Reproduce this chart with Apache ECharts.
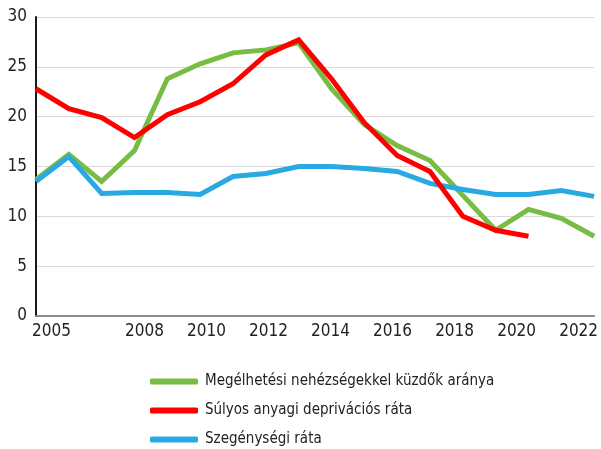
<!DOCTYPE html>
<html>
<head>
<meta charset="utf-8">
<script src="https://cdn.jsdelivr.net/npm/echarts@6/dist/echarts.min.js"></script>
<style>
  html, body { margin: 0; padding: 0; background: #fff; }
  #chart { width: 601px; height: 449px; }
</style>
</head>
<body>
<div id="chart"></div>
<script>
const years = ["2005", "2006", "2007", "2008", "2009", "2010", "2011", "2012", "2013",
    "2014", "2015", "2016", "2017", "2018", "2019", "2020", "2021", "2022"];

const hardship = [13.7, 16.2, 13.5, 16.6, 23.8, 25.3, 26.4, 26.7, 27.4,
    22.8, 19.2, 17.1, 15.6, 12.1, 8.6, 10.7, 9.8, 8.0];
const deprivation = [22.8, 20.8, 19.9, 17.9, 20.2, 21.5, 23.3, 26.2, 27.7,
    23.8, 19.4, 16.1, 14.5, 10.0, 8.6, 8.0];
const poverty = [13.5, 16.0, 12.3, 12.4, 12.4, 12.2, 14.0, 14.3, 15.0,
    15.0, 14.8, 14.5, 13.3, 12.7, 12.2, 12.2, 12.6, 12.0];

const names = [
    "Megélhetési nehézségekkel küzdők aránya",
    "Súlyos anyagi deprivációs ráta",
    "Szegénységi ráta"
];
const colors = ["#77bc43", "#ff0000", "#29a9e1"];

const font = "'DejaVu Sans Condensed', 'Roboto', sans-serif";

const chart = echarts.init(document.getElementById("chart"));

const lineSeries = (i, data, z) => ({
    name: names[i],
    type: "line",
    xAxisIndex: 1,
    data: data,
    symbol: "none",
    z: z,
    lineStyle: { color: colors[i], width: 5, join: "miter" },
    itemStyle: { color: colors[i] },
});

chart.setOption({
    animation: false,
    grid: { left: 36, right: 4, top: 17, bottom: 133 },
    xAxis: [
        {
            type: "category",
            data: years,
            boundaryGap: true,
            axisLine: { lineStyle: { color: "#8c8c8c", width: 2 } },
            axisTick: {
                inside: true, length: 5, interval: 0,
                lineStyle: { color: "#1a1a1a", width: 2 },
            },
            axisLabel: {
                interval: (i, v) => i === 0 || (+v >= 2008 && +v % 2 === 0),
                color: "#222",
                fontFamily: font,
                fontSize: 17,
                margin: 7,
            },
        },
        {
            type: "category",
            data: years,
            boundaryGap: false,
            show: false,
        },
    ],
    yAxis: {
        type: "value",
        min: 0,
        max: 30,
        interval: 5,
        axisLine: { show: true, lineStyle: { color: "#1a1a1a", width: 2 } },
        axisTick: { show: false },
        axisLabel: { color: "#222", fontFamily: font, fontSize: 17, margin: 9 },
        splitLine: { lineStyle: { color: "#d9d9d9", width: 1 } },
    },
    legend: {
        orient: "vertical",
        left: 150,
        top: 373,
        padding: 0,
        data: names,
        icon: "roundRect",
        itemWidth: 48,
        itemHeight: 6,
        itemGap: 12,
        textStyle: {
            color: "#222", fontFamily: font, fontSize: 15, lineHeight: 17,
            padding: [0, 0, 0, 2],
        },
    },
    series: [
        lineSeries(0, hardship, 2),
        lineSeries(2, poverty, 3),
        lineSeries(1, deprivation, 4),
    ],
});
</script>
</body>
</html>
